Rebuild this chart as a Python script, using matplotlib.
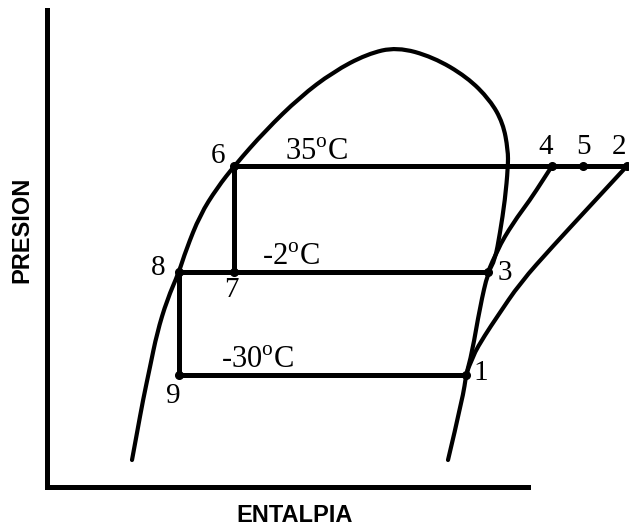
import matplotlib
matplotlib.use('Agg')
import matplotlib.pyplot as plt
from matplotlib.path import Path
from matplotlib.patches import PathPatch

# saturation dome (enthalpy, pressure), liquid side -> top -> vapour side
dome_h = [85, 90, 96, 103, 110, 120, 132, 139, 153, 170, 188, 218, 253,
          286, 320, 350, 386, 420, 443, 456, 461, 461, 458, 453, 448, 441,
          433, 425, 419, 416, 401]
dome_p = [27, 54, 87, 120, 154, 187, 215, 237, 272, 299, 322, 356, 390,
          415, 433, 440, 430, 410, 387, 364, 337, 320, 287, 254, 227, 215,
          180, 134, 112, 90, 27]

# compression paths 3 -> 4 and 1 -> 2
comp34_h = [441, 450, 466, 483, 496, 505]
comp34_p = [215, 237, 264, 287, 307, 321]
comp12_h = [419, 425, 438, 450, 473, 506, 543, 580]
comp12_p = [112, 130, 152, 170, 204, 241, 281, 321]

# cycle state points
state_lbl = ['1', '2', '3', '4', '5', '6', '7', '8', '9']
state_h = [419, 580, 441, 505, 536, 187, 187, 132, 132]
state_p = [112, 321, 215, 321, 321, 321, 215, 215, 112]

# where each state number is written
lbl_h = [434, 572, 458, 499, 537, 171, 184, 111, 126]
lbl_p = [114, 340, 214, 340, 340, 331, 197, 219, 91]

# isotherm temperatures and where they are written (left, baseline)
temps = ['35', '-2', '-30']
temp_h = [238, 215, 174]
temp_p = [327, 222, 119]

plt.rcParams['mathtext.fontset'] = 'custom'
plt.rcParams['mathtext.rm'] = 'Liberation Serif'


def smooth_path(xs, ys):
    # quadratic Bezier chain: points act as control points, the curve
    # runs through the midpoints between them
    pts = list(zip(xs, ys))
    verts = [pts[0]]
    codes = [Path.MOVETO]
    for i in range(1, len(pts) - 1):
        mid = ((pts[i][0] + pts[i + 1][0]) / 2, (pts[i][1] + pts[i + 1][1]) / 2)
        end = pts[-1] if i == len(pts) - 2 else mid
        verts += [pts[i], end]
        codes += [Path.CURVE3, Path.CURVE3]
    return Path(verts, codes)


fig = plt.figure(figsize=(6.29, 5.27), dpi=100)
ax = fig.add_axes([47 / 629, 40 / 527, 481 / 629, 477 / 527])
ax.set_xlim(0, 481)
ax.set_ylim(0, 477)
ax.set_xticks([])
ax.set_yticks([])
for s in ('top', 'right'):
    ax.spines[s].set_visible(False)
for s in ('left', 'bottom'):
    ax.spines[s].set_linewidth(3.6)
    ax.spines[s].set_capstyle('projecting')

for xs, ys in [(dome_h, dome_p), (comp34_h, comp34_p), (comp12_h, comp12_p)]:
    ax.add_patch(PathPatch(smooth_path(xs, ys), fill=False, ec='black',
                           lw=3.0, capstyle='round', joinstyle='round',
                           clip_on=False))

pt = dict(zip(state_lbl, zip(state_h, state_p)))
cyc = dict(color='black', lw=3.6, solid_capstyle='butt', clip_on=False)
for a, b in [('6', '2'), ('8', '3'), ('9', '1'), ('6', '7'), ('8', '9')]:
    ax.plot([pt[a][0], pt[b][0]], [pt[a][1], pt[b][1]], **cyc)

ax.plot(state_h, state_p, 'o', color='black', ms=5.5, clip_on=False)

serif = dict(family='Liberation Serif', fontsize=21, color='black')
for s, x, y in zip(state_lbl, lbl_h, lbl_p):
    ax.text(x, y, s, ha='center', va='center', clip_on=False, **serif)
for t, x, y in zip(temps, temp_h, temp_p):
    ax.text(x, y, t + r'$^{\mathrm{o}}$C', ha='left', va='baseline',
            clip_on=False, fontsize=22,
            **{k: v for k, v in serif.items() if k != 'fontsize'})

fig.text(295 / 629, 1 - 515 / 527, 'ENTALPIA', ha='center', va='center',
         family='Liberation Sans', fontweight='bold', fontsize=17)
fig.text(22 / 629, 1 - 230 / 527, 'PRESION', ha='center', va='center',
         rotation=90, family='Liberation Sans', fontweight='bold',
         fontsize=17)

fig.savefig('out.png', dpi=100)
